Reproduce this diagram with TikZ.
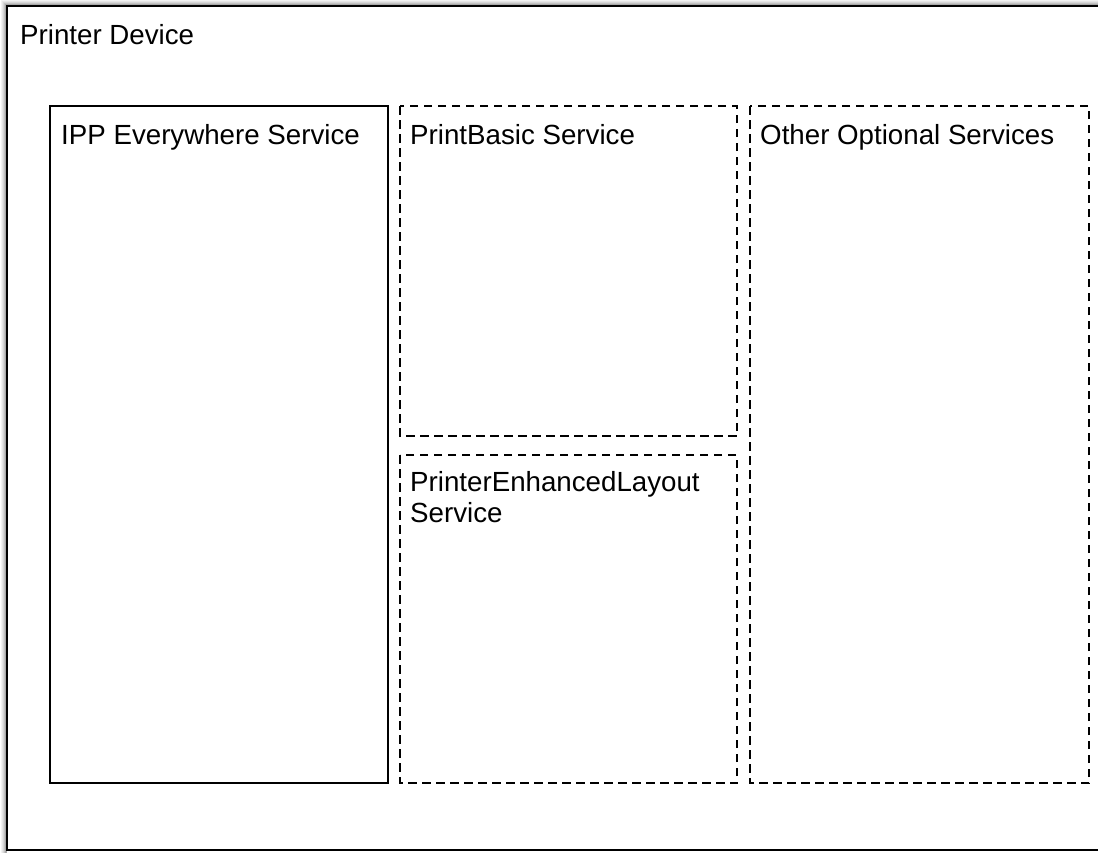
\documentclass[tikz,border=0pt]{standalone}
\usepackage{fontspec}
\setmainfont{Liberation Sans}
\begin{document}
\begin{tikzpicture}[x=1pt,y=-1pt,
  box/.style={draw=black,line width=2pt},
  dbox/.style={draw=black,line width=2pt,dash pattern=on 8.5pt off 5.5pt},
  lbl/.style={anchor=base west,inner sep=0pt,font=\fontsize{27.7}{31}\selectfont,align=left}]
\useasboundingbox (0,0) rectangle (1098,852);
% shadow
\foreach \o/\c in {5/5,4/10,3/16,2/24,1/34}{
  \draw[black!\c,line width=2pt] (7-\o,860) -- (7-\o,6-\o) -- (1110,6-\o);
}
\draw[box,fill=white] (7,6) rectangle (1110,850);
\node[lbl] (dev) at (20,44) {Printer Device};
\draw[box] (50,106) rectangle (388,783);
\node[lbl] (ipp) at (61,144) {IPP Everywhere Service};
\draw[dbox] (400,106) rectangle (737,436);
\node[lbl] (pb) at (410,144) {PrintBasic Service};
\draw[dbox] (400,455) rectangle (737,783);
\node[lbl,anchor=north west] (pel) at (410,471) {PrinterEnhancedLayout\\Service};
\draw[dbox] (750,106) rectangle (1089,783);
\node[lbl] (oos) at (760,144) {Other Optional Services};
\end{tikzpicture}
\end{document}
